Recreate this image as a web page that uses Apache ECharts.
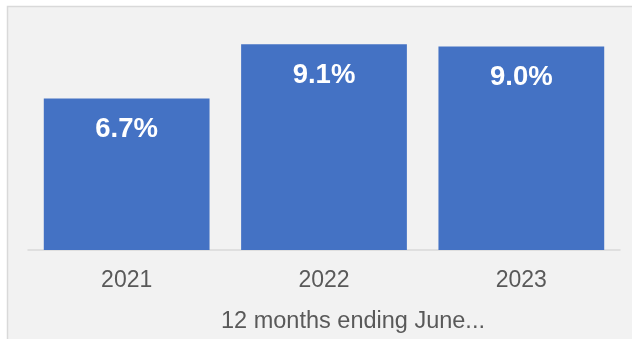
<!DOCTYPE html>
<html>
<head>
<meta charset="utf-8">
<script src="https://cdn.jsdelivr.net/npm/echarts@6/dist/echarts.min.js"></script>
<style>
  html, body { margin: 0; padding: 0; background: #ffffff; }
  #chart { width: 632px; height: 339px; }
</style>
</head>
<body>
<div id="chart"></div>
<script>
// Period labels and growth rates (percent)
const categories = ['2021', '2022', '2023'];
const growthRates = [6.7, 9.1, 9.0];
const axisTitle = '12 months ending June...';

const chart = echarts.init(document.getElementById('chart'), null, { renderer: 'canvas' });

chart.setOption({
  backgroundColor: '#ffffff',
  animation: false,
  graphic: [{
    type: 'rect',
    z: -10,
    silent: true,
    shape: { x: 7.5, y: 6.5, width: 700, height: 400 },
    style: { fill: '#f2f2f2', stroke: '#d9d9d9', lineWidth: 1.5 }
  }],
  grid: { left: 28, right: 12, top: 24, bottom: 88 },
  xAxis: {
    type: 'category',
    data: categories,
    axisTick: { show: false },
    axisLine: { lineStyle: { color: '#d9d9d9', width: 1.5 } },
    axisLabel: {
      color: '#595959',
      fontFamily: 'Liberation Sans, Arial, sans-serif',
      fontSize: 23,
      margin: 19
    },
    name: axisTitle,
    nameLocation: 'middle',
    nameGap: 60,
    nameTextStyle: {
      color: '#595959',
      fontFamily: 'Liberation Sans, Arial, sans-serif',
      fontSize: 23.5,
      padding: [0, 0, 0, 58]
    }
  },
  yAxis: {
    type: 'value',
    min: 0,
    max: 10,
    show: false
  },
  series: [{
    type: 'bar',
    data: growthRates,
    barCategoryGap: '16%',
    itemStyle: { color: '#4472c4' },
    label: {
      show: true,
      position: 'insideTop',
      distance: 17,
      color: '#ffffff',
      fontWeight: 'bold',
      fontFamily: 'Liberation Sans, Arial, sans-serif',
      fontSize: 27.5,
      formatter: p => p.value.toFixed(1) + '%'
    }
  }]
});
</script>
</body>
</html>
